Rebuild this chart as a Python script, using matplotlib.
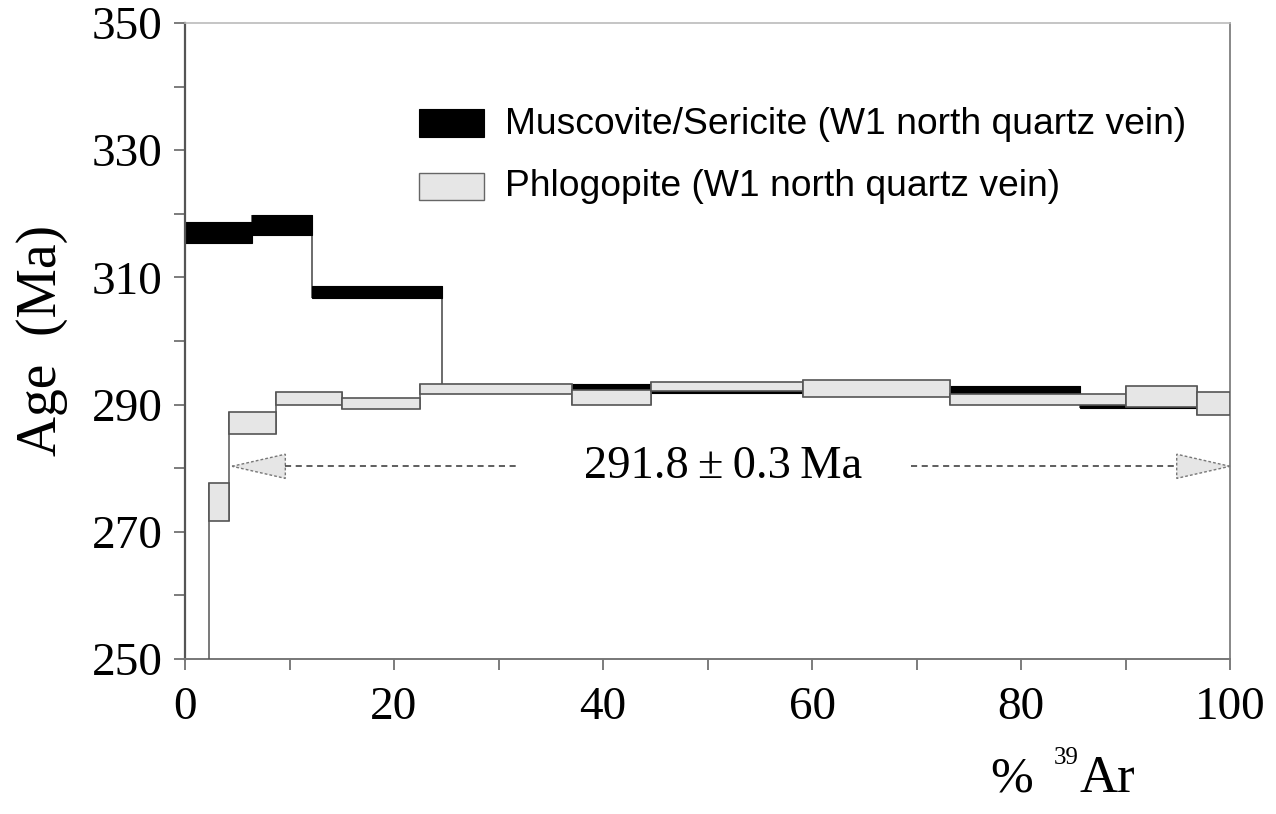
import matplotlib
matplotlib.use("Agg")
import matplotlib.pyplot as plt
from matplotlib.patches import Rectangle, Polygon
import numpy as np

# ---- data ----
musc_edges = [0, 6.4, 12.2, 24.6, 44.6, 73.2, 85.6, 100]
musc_low = [315.4, 316.7, 306.8, 292.3, 291.8, 291.4, 289.4]
musc_high = [318.7, 319.8, 308.7, 293.2, 292.6, 292.9, 290.5]

phl_edges = [0, 2.3, 4.2, 8.7, 15.0, 22.5, 37.0, 44.6, 59.1, 73.2, 90.0, 96.8, 100]
phl_low = [238.0, 271.7, 285.3, 290.0, 289.3, 291.6, 289.9, 292.2, 291.2, 290.0, 289.7, 288.3]
phl_high = [245.0, 277.6, 288.8, 292.0, 291.0, 293.2, 292.3, 293.6, 293.8, 291.6, 293.0, 292.0]

plateau_age = 291.8
plateau_err = 0.3
plateau_start = 4.5
plateau_end = 100.0

labels = ["Muscovite/Sericite (W1 north quartz vein)", "Phlogopite (W1 north quartz vein)"]
x_ticks = [0, 20, 40, 60, 80, 100]
y_ticks = [250, 270, 290, 310, 330, 350]

SERIF = ["Liberation Serif", "DejaVu Serif"]
SANS = ["Liberation Sans", "DejaVu Sans"]
GRAY_FILL = "#e6e6e6"

W, H = 1276, 814
fig = plt.figure(figsize=(W / 100, H / 100), dpi=100)
ax = fig.add_axes([185 / W, 1 - 659 / H, (1230 - 185) / W, (659 - 23) / H])
ax.set_xlim(0, 100)
ax.set_ylim(250, 350)


def draw_spectrum(edges, low, high, face, edge, lw, conn_color, z):
    edges = np.asarray(edges)
    low = np.asarray(low)
    high = np.asarray(high)
    widths = np.diff(edges)
    for i in range(1, len(low)):
        ax.vlines(edges[i], min(low[i - 1], low[i]), max(high[i - 1], high[i]),
                  color=conn_color, lw=1.1, zorder=z)
    ax.bar(edges[:-1], high - low, width=widths, bottom=low, align="edge",
           color=face, edgecolor=edge, linewidth=lw, zorder=z + 0.5)


draw_spectrum(musc_edges, musc_low, musc_high, "black", "black", 0.8, "#444444", 2)
draw_spectrum(phl_edges, phl_low, phl_high, GRAY_FILL, "#555555", 1.2, "#555555", 3)

# plateau arrows
y_arrow = 280.3
half_h = 1.9
tri_len = 5.1
for tip, base in [(plateau_start, plateau_start + tri_len), (plateau_end, plateau_end - tri_len)]:
    tri = Polygon([[tip, y_arrow], [base, y_arrow + half_h], [base, y_arrow - half_h]],
                  closed=True, facecolor=GRAY_FILL, edgecolor="#777777",
                  linestyle=(0, (2, 1.5)), linewidth=1.0, zorder=4, clip_on=False)
    ax.add_patch(tri)
ax.plot([plateau_start + tri_len, 31.9], [y_arrow, y_arrow], color="#333333",
        lw=1.1, ls=(0, (4, 3)), zorder=4)
ax.plot([69.5, plateau_end - tri_len], [y_arrow, y_arrow], color="#333333",
        lw=1.1, ls=(0, (4, 3)), zorder=4)
ax.text(51.5, y_arrow, f"{plateau_age:.1f}\u2009\u00b1\u2009{plateau_err:.1f}\u2009Ma",
        ha="center", va="center", fontsize=33.5, family=SERIF, zorder=5)

# legend drawn manually
def fx(px):
    return (px - 185) / 1045


def fy(py):
    return (659 - py) / 636


ax.add_patch(Rectangle((fx(419), fy(137)), fx(484) - fx(419), fy(109) - fy(137),
                       transform=ax.transAxes, facecolor="black", edgecolor="black",
                       lw=0.8, zorder=5))
ax.add_patch(Rectangle((fx(419), fy(200)), fx(484) - fx(419), fy(173) - fy(200),
                       transform=ax.transAxes, facecolor=GRAY_FILL, edgecolor="#666666",
                       lw=1.0, zorder=5))
ax.text(fx(505), fy(124), labels[0], transform=ax.transAxes, ha="left", va="center",
        fontsize=26.8, family=SANS, zorder=5)
ax.text(fx(505), fy(187), labels[1], transform=ax.transAxes, ha="left", va="center",
        fontsize=26.8, family=SANS, zorder=5)

# axes styling
ax.spines["left"].set_color("#555555")
ax.spines["left"].set_linewidth(1.6)
ax.spines["bottom"].set_color("#777777")
ax.spines["bottom"].set_linewidth(1.4)
ax.spines["top"].set_color("#bbbbbb")
ax.spines["top"].set_linewidth(1.2)
ax.spines["right"].set_color("#888888")
ax.spines["right"].set_linewidth(1.4)

ax.set_xticks(x_ticks)
ax.set_xticks(np.arange(0, 101, 10), minor=True)
ax.set_yticks(y_ticks)
ax.set_yticks(np.arange(250, 351, 10), minor=True)
ax.tick_params(which="both", direction="out", length=8, width=1.2, color="#666666")
ax.tick_params(axis="y", which="major", pad=8)
ax.tick_params(axis="x", which="major", pad=12)
for lab in ax.get_xticklabels() + ax.get_yticklabels():
    lab.set_fontsize(34)
    lab.set_family(SERIF)

fig.text(42 / W, 1 - 340 / H, "Age  (Ma)", rotation=90, ha="center", va="center",
         fontsize=40, family=SERIF)
fig.text(990 / W, 1 - 792 / H, "%", ha="left", va="baseline", fontsize=37, family=SERIF)
fig.text(1054 / W, 1 - 764 / H, "39", ha="left", va="baseline", fontsize=18, family=SERIF)
fig.text(1080 / W, 1 - 792 / H, "Ar", ha="left", va="baseline", fontsize=38, family=SERIF)

fig.savefig("out.png", dpi=100, facecolor="white")
